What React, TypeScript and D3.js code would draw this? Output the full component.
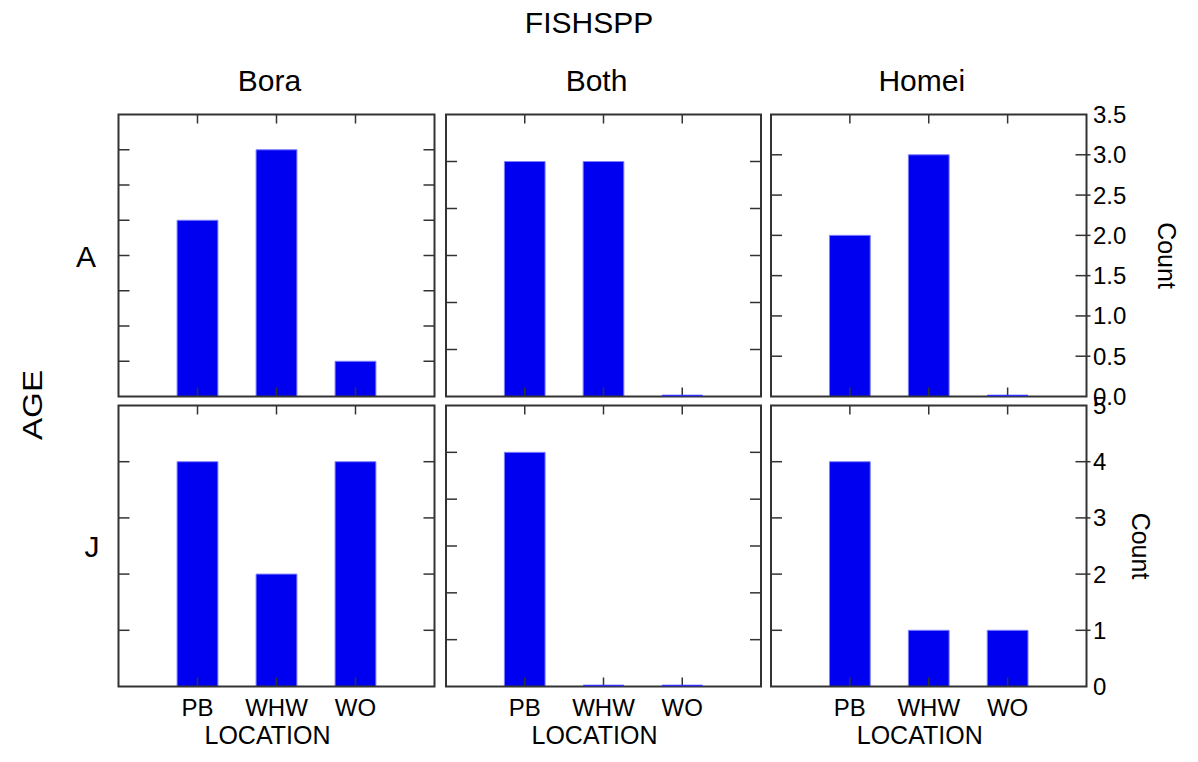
import React from "react";
import * as d3 from "d3";

const locations = ["PB", "WHW", "WO"];
const species = ["Bora", "Both", "Homei"];
const ages = ["A", "J"];

// counts per location (PB, WHW, WO)
const boraA = [5, 7, 1];
const bothA = [5, 5, 0];
const homeiA = [2, 3, 0];
const boraJ = [4, 2, 4];
const bothJ = [5, 0, 0];
const homeiJ = [4, 1, 1];

// per-panel y domain max and tick step
const yMaxA = [8, 6, 3.5];
const yStepA = [1, 1, 0.5];
const yMaxJ = [5, 6, 5];
const yStepJ = [1, 1, 1];

const rightTicksA = ["0.0", "0.5", "1.0", "1.5", "2.0", "2.5", "3.0", "3.5"];
const rightTicksJ = ["0", "1", "2", "3", "4", "5"];

const FONT = "'Liberation Sans', Arial, sans-serif";
const colLeft = [118.5, 446, 771];
const colRight = [434.5, 761, 1086.5];
const rowTop = [114.5, 405.5];
const rowBottom = [396.5, 686.5];

export default function App() {
  const rows = [
    { values: [boraA, bothA, homeiA], yMax: yMaxA, yStep: yStepA, labels: rightTicksA },
    { values: [boraJ, bothJ, homeiJ], yMax: yMaxJ, yStep: yStepJ, labels: rightTicksJ },
  ];
  const countX = [1158, 1132];
  const rowLabelX = [86, 92];

  return (
    <svg width={1198} height={762} style={{ position: "absolute", left: 0, top: 0, background: "#fff" }} fontFamily={FONT}>
      <rect x={0} y={0} width={1198} height={762} fill="#fff" />
      <text x={589} y={33} fontSize={30} textAnchor="middle">FISHSPP</text>
      {species.map((s, c) => (
        <text key={s} x={(colLeft[c] + colRight[c]) / 2 - 7} y={91} fontSize={30} textAnchor="middle">{s}</text>
      ))}
      <text transform="translate(42,405) rotate(-90)" fontSize={28} textAnchor="middle" textLength={70} lengthAdjust="spacingAndGlyphs">AGE</text>
      {rows.map((row, r) => {
        const top = rowTop[r];
        const bottom = rowBottom[r];
        return (
          <g key={r}>
            <text x={rowLabelX[r]} y={(top + bottom) / 2 + 11} fontSize={30} textAnchor="middle">{ages[r]}</text>
            <text transform={`translate(${countX[r]},${(top + bottom) / 2}) rotate(90)`} fontSize={25} textAnchor="middle">Count</text>
            {species.map((s, c) => {
              const left = colLeft[c];
              const right = colRight[c];
              const x = d3.scalePoint<string>().domain(locations).range([left, right]).padding(1);
              const y = d3.scaleLinear().domain([0, row.yMax[c]]).range([bottom, top]);
              const step = row.yStep[c];
              const ticks = d3.range(0, row.yMax[c] + step / 2, step);
              const bw = x.step() * 0.517;
              const vals = row.values[c];
              return (
                <g key={s}>
                  {vals.map((v, i) => {
                    const cx = x(locations[i])!;
                    const x0 = cx - bw / 2;
                    const x1 = cx + bw / 2;
                    const y0 = y(0);
                    const y1 = y(v);
                    return v > 0 ? (
                      <path key={i} d={`M${x0},${y0}H${x1}V${y1}H${x0}Z`} fill="#0000f0" stroke="#8080ff" strokeWidth={1} />
                    ) : null;
                  })}
                  {ticks.slice(1, -1).map((t, k) => (
                    <g key={k} stroke="#333" strokeWidth={1.5}>
                      <line x1={left} x2={left + 11} y1={y(t)} y2={y(t)} />
                      <line x1={right - 11} x2={c === 2 ? right + 4 : right} y1={y(t)} y2={y(t)} />
                    </g>
                  ))}
                  {locations.map((l) => (
                    <g key={l} stroke="#333" strokeWidth={1.5}>
                      <line x1={x(l)} x2={x(l)} y1={top} y2={top + 9} />
                      <line x1={x(l)} x2={x(l)} y1={bottom} y2={bottom - 9} />
                    </g>
                  ))}
                  <rect x={left} y={top} width={right - left} height={bottom - top} fill="none" stroke="#333" strokeWidth={2} />
                  {vals.map((v, i) => {
                    if (v > 0) return null;
                    const cx = x(locations[i])!;
                    return (
                      <line key={"z" + i} x1={cx - bw / 2} x2={cx + bw / 2} y1={y(0) - 1} y2={y(0) - 1} stroke="#3030ff" strokeWidth={1.5} />
                    );
                  })}
                  {c === 2 &&
                    ticks.map((t, k) => (
                      <text key={k} x={1093} y={y(t)} fontSize={24} dominantBaseline="central">{row.labels[k]}</text>
                    ))}
                  {r === 1 && (
                    <g>
                      {locations.map((l) => (
                        <text key={l} x={x(l)} y={716} fontSize={24} textAnchor="middle">{l}</text>
                      ))}
                      <text x={(left + right) / 2 - 9} y={744} fontSize={25} textAnchor="middle">LOCATION</text>
                    </g>
                  )}
                </g>
              );
            })}
          </g>
        );
      })}
    </svg>
  );
}
